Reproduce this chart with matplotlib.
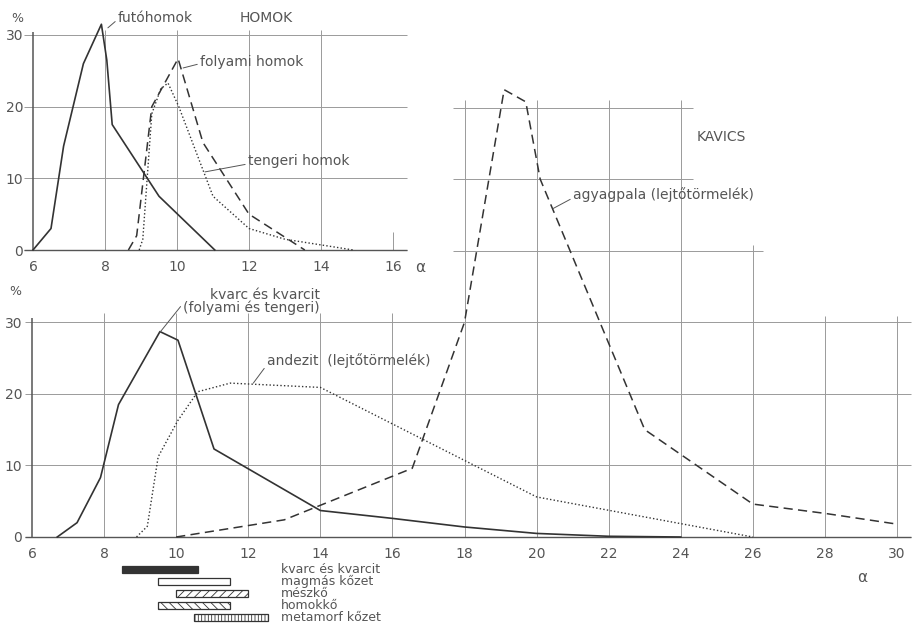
import matplotlib
matplotlib.use('Agg')
import matplotlib.pyplot as plt

plt.rcParams['font.family'] = 'DejaVu Sans'

# HOMOK (upper small chart), alpha vs %
futo_x = [6.0, 6.5, 6.85, 7.4, 7.9, 8.05, 8.2, 9.5, 11.05]
futo_y = [0, 3, 14.5, 26, 31.5, 26.5, 17.5, 7.5, 0]
folyami_x = [8.65, 8.88, 9.3, 10.03, 10.72, 12.0, 13.55]
folyami_y = [0, 2, 20, 26.7, 15, 5, 0]
tengeri_x = [8.95, 9.05, 9.3, 9.55, 9.75, 10.05, 11.0, 12.0, 13.0, 14.9]
tengeri_y = [0, 1.5, 19, 22.5, 23.3, 20, 7.5, 3, 1.5, 0]
homok_xticks = [6, 8, 10, 12, 14, 16]
homok_yticks = [0, 10, 20, 30]

# KAVICS (big chart)
kvarc_x = [6.7, 7.25, 7.9, 8.4, 9.55, 10.05, 11.05, 14.0, 16.0, 18.0, 20.0, 22.0, 24.0]
kvarc_y = [0, 2, 8.3, 18.5, 28.7, 27.5, 12.3, 3.7, 2.6, 1.4, 0.5, 0.1, 0]
andezit_x = [8.9, 9.2, 9.5, 10.05, 10.6, 11.5, 14.0, 20.0, 26.0]
andezit_y = [0, 1.5, 11.2, 16.3, 20.3, 21.5, 20.9, 5.6, 0]
agyag_x = [10.0, 13.0, 16.55, 18.0, 19.1, 19.7, 20.1, 23.0, 26.0, 28.0, 30.0]
agyag_y = [0, 2.4, 9.6, 30, 62.5, 60.8, 50, 15, 4.6, 3.3, 1.8]
kavics_xticks = list(range(6, 31, 2))
kavics_yticks = [0, 10, 20, 30]

# alpha ranges of rock types (bars under the chart)
bar_labels = ['kvarc és kvarcit', 'magmás kőzet', 'mészkő', 'homokkő', 'metamorf kőzet']
bar_start = [8.5, 9.5, 10.0, 9.5, 10.5]
bar_end = [10.6, 11.5, 12.0, 11.5, 12.55]

W, H = 913, 631
INK = '#333333'
GRID = '#9a9a9a'
TXT = '#555555'


def box(left, right, top, bottom):
    # axes rectangle from pixel edges of the picture
    return [left / W, 1 - bottom / H, (right - left) / W, (bottom - top) / H]


def bare(a):
    a.patch.set_alpha(0)
    for s in a.spines.values():
        s.set_visible(False)
    a.tick_params(length=0, colors=TXT, labelsize=10)


fig = plt.figure(figsize=(W / 100, H / 100), dpi=100)
fig.patch.set_facecolor('white')

# ---- big chart (KAVICS) ----
ax = fig.add_axes(box(32, 897, 36, 537))
ax.set_xlim(6, 30)
ax.set_ylim(0, 70)
bare(ax)
ax.set_xticks(kavics_xticks)
ax.set_yticks(kavics_yticks)
ax.tick_params(axis='x', pad=7)
ax.tick_params(axis='y', pad=7)

gk = dict(color=GRID, lw=0.7, clip_on=False)
ax.hlines([0, 10, 20, 30], 5.8, 30.4, **gk)
ax.hlines(40, 17.68, 26.28, **gk)
ax.hlines([50, 60], 17.68, 24.34, **gk)
ax.vlines([8, 10, 12, 14, 16], 0, 31.3, **gk)
ax.vlines([18, 20, 22, 24], 0, 61.1, **gk)
ax.vlines(26, 0, 40.8, **gk)
ax.vlines([28, 30], 0, 30.9, **gk)
ax.vlines(6, 0, 30.6, color='#555555', lw=1.1, clip_on=False)
ax.hlines(0, 5.8, 30.4, color='#555555', lw=1.0, clip_on=False)

ax.plot(kvarc_x, kvarc_y, color=INK, lw=1.2, clip_on=False)
ax.plot(andezit_x, andezit_y, color=INK, lw=1.0, linestyle=(0, (1, 1.6)), clip_on=False)
ax.plot(agyag_x, agyag_y, color=INK, lw=1.1, linestyle=(0, (6, 3.5)), clip_on=False)

lead = dict(arrowstyle='-', color=TXT, lw=0.7, shrinkA=0, shrinkB=0)
ax.annotate('kvarc és kvarcit\n(folyami és tengeri)', xy=(9.55, 28.6), xytext=(13.99, 32.9),
            ha='right', va='center', multialignment='right', color=TXT, fontsize=10,
            linespacing=0.95, annotation_clip=False, arrowprops=dict(lead, relpos=(0.05, 0.75)))
ax.annotate('andezit  (lejtőtörmelék)', xy=(12.14, 21.5), xytext=(12.52, 24.7),
            ha='left', va='center', color=TXT, fontsize=10, annotation_clip=False,
            arrowprops=dict(lead, relpos=(0, 0.2)))
ax.annotate('agyagpala (lejtőtörmelék)', xy=(20.46, 45.9), xytext=(21.01, 47.8),
            ha='left', va='center', color=TXT, fontsize=10, annotation_clip=False,
            arrowprops=dict(lead, relpos=(0, 0.3)))
ax.text(24.45, 55.9, 'KAVICS', ha='left', va='center', color=TXT, fontsize=10)
ax.text(-0.019, 0.49, '%', transform=ax.transAxes, ha='center', va='center', color=TXT, fontsize=9)
ax.text(29.03, -5.7, 'α', ha='center', va='center', color=TXT, fontsize=11, clip_on=False)

# ---- small chart (HOMOK) ----
ai = fig.add_axes(box(33, 393, 35, 250))
ai.set_xlim(6, 16)
ai.set_ylim(0, 30)
bare(ai)
ai.set_xticks(homok_xticks)
ai.set_yticks(homok_yticks)
ai.tick_params(axis='x', pad=7)
ai.tick_params(axis='y', pad=7)

ai.hlines([0, 10, 20, 30], 5.75, 16.39, **gk)
ai.vlines([8, 10, 12, 14], 0, 30.7, **gk)
ai.vlines(16, 0, 2.5, **gk)
ai.vlines(6, 0, 30.4, color='#555555', lw=1.1, clip_on=False)
ai.hlines(0, 5.75, 16.39, color='#555555', lw=1.0, clip_on=False)

ai.plot(futo_x, futo_y, color=INK, lw=1.2, clip_on=False)
ai.plot(folyami_x, folyami_y, color=INK, lw=1.1, linestyle=(0, (6, 3.5)), clip_on=False)
ai.plot(tengeri_x, tengeri_y, color=INK, lw=1.0, linestyle=(0, (1, 1.6)), clip_on=False)

ai.annotate('futóhomok', xy=(8.08, 31.0), xytext=(8.36, 32.4), ha='left', va='center',
            color=TXT, fontsize=10, annotation_clip=False, arrowprops=dict(lead, relpos=(0, 0.4)))
ai.annotate('folyami homok', xy=(10.17, 25.4), xytext=(10.64, 26.2), ha='left', va='center',
            color=TXT, fontsize=10, annotation_clip=False, arrowprops=dict(lead, relpos=(0, 0.4)))
ai.annotate('tengeri homok', xy=(10.78, 10.9), xytext=(11.97, 12.4), ha='left', va='center',
            color=TXT, fontsize=10, annotation_clip=False, arrowprops=dict(lead, relpos=(0, 0.3)))
ai.text(11.75, 32.4, 'HOMOK', ha='left', va='center', color=TXT, fontsize=10)
ai.text(-0.045, 1.075, '%', transform=ai.transAxes, ha='center', va='center', color=TXT, fontsize=9)
ai.text(16.75, -2.4, 'α', ha='center', va='center', color=TXT, fontsize=11, clip_on=False)

# ---- rock type ranges ----
ab = fig.add_axes(box(32, 897, 563.5, 623.5))
ab.set_xlim(6, 30)
ab.set_ylim(4.5, -0.5)
ab.axis('off')
plt.rcParams['hatch.linewidth'] = 0.6
rows = list(range(len(bar_labels)))
widths = [e - s for s, e in zip(bar_start, bar_end)]
faces = [INK, 'white', 'white', 'white', 'white']
hatches = [None, None, '////', '\\\\\\\\', '|||||']
for r, s, w, fc, h in zip(rows, bar_start, widths, faces, hatches):
    ab.barh(r, w, left=s, height=0.58, color=fc, edgecolor=INK, linewidth=0.9, hatch=h)
for r, lab in zip(rows, bar_labels):
    ab.text(12.9, r, lab, ha='left', va='center', color=TXT, fontsize=9)

fig.savefig('out.png', dpi=100, facecolor='white')
